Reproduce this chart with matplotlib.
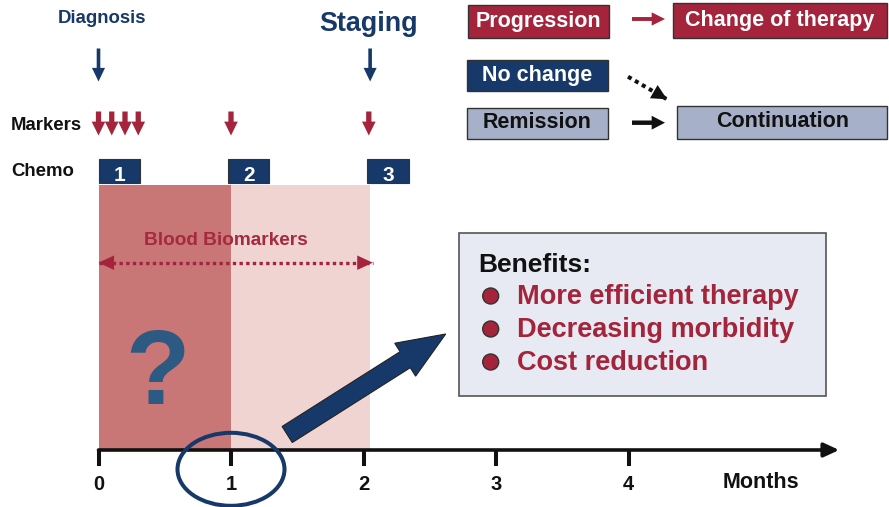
import numpy as np
import matplotlib
matplotlib.use("Agg")
import matplotlib.pyplot as plt
from matplotlib.patches import FancyArrow, Ellipse, Rectangle, Circle, ArrowStyle

plt.rcParams['font.family'] = ['Liberation Sans', 'DejaVu Sans']
plt.rcParams['font.weight'] = 'bold'

# ---- timeline data (months) ----
month_ticks = [0, 1, 2, 3, 4]
tick_labels = ['0', '1', '2', '3', '4']
phase_edges = [0, 1, 2.05]            # first month / second month shading
marker_months = [0, 0.1, 0.2, 0.3, 1, 2.04]
chemo_cycles = ['1', '2', '3']
chemo_start = [0, 0.98, 2.03]
chemo_length = 0.31
diagnosis_month = 0
staging_month = 2.05
biomarker_window = [0, 2.07]
axis_end = 5.59
focus_month = 1

benefits = ['More efficient therapy', 'Decreasing morbidity', 'Cost reduction']

NAVY = '#163969'
RED = '#a3243b'
STEEL = '#a6b0c8'
DARK_PINK = '#c87676'
LIGHT_PINK = '#f0d4d2'
INK = '#111111'

W, H = 889, 507
fig = plt.figure(figsize=(W / 100, H / 100), dpi=100)

# timeline axes: x in months, y in pixels
tl = fig.add_axes([0, 0, 1, 1])
tl.set_xlim(-98.5 / 132.5, (W - 98.5) / 132.5)
tl.set_ylim(H, 0)
tl.axis('off')

# layout axes: pixel coordinates
ax = fig.add_axes([0, 0, 1, 1])
ax.set_xlim(0, W)
ax.set_ylim(H, 0)
ax.axis('off')


def to_px(m):
    return ax.transData.inverted().transform(tl.transData.transform((m, 0)))[0]


def simple_arrow(axes, start, end, color, head_length, head_width, tail_width, z=3):
    axes.annotate('', xy=end, xytext=start,
                  arrowprops=dict(arrowstyle=ArrowStyle.Simple(head_length=head_length,
                                                               head_width=head_width,
                                                               tail_width=tail_width),
                                  mutation_scale=1, color=color, lw=0,
                                  shrinkA=0, shrinkB=0), zorder=z)


def dotted_arrow(axes, start, end, color, lw, head_length, head_width, both=False):
    (x0, y0), (x1, y1) = start, end
    axes.plot([x0, x1], [y0, y1], color=color, lw=lw, ls=(0, (1.0, 1.0)),
              dash_capstyle='butt', zorder=3)
    # heads only: a hairline tail under a filled head
    simple_arrow(axes, start, end, color, head_length, head_width, 0.01)
    if both:
        simple_arrow(axes, end, start, color, head_length, head_width, 0.01)


# shaded treatment phases
tl.bar(phase_edges[:-1], 449 - 185, width=np.diff(phase_edges), bottom=185,
       align='edge', color=[DARK_PINK, LIGHT_PINK], zorder=1)

# time axis with arrow
tl.annotate('', xy=(axis_end, 450), xytext=(phase_edges[0], 450),
            arrowprops=dict(arrowstyle='-|>,head_length=0.65,head_width=0.3',
                            mutation_scale=14, lw=2.6, color=INK,
                            shrinkA=0, shrinkB=0))
tl.vlines(month_ticks, 450, 466, colors=INK, lw=2.9, zorder=3)
for m, lab in zip(month_ticks, tick_labels):
    tl.text(m, 490, lab, ha='center', va='baseline', fontsize=14.5, color=INK)
ax.text(761, 487.7, 'Months', ha='center', va='baseline', fontsize=15.5, color=INK)

# diagnosis / staging
ax.text(102, 23.3, 'Diagnosis', ha='center', va='baseline', fontsize=13.4, color=NAVY)
ax.text(369, 31, 'Staging', ha='center', va='baseline', fontsize=19.4, color=NAVY)
for m in (diagnosis_month, staging_month):
    simple_arrow(tl, (m, 48.5), (m, 81.5), NAVY, 9.8, 9.4, 2.6)

# marker draws
ax.text(11, 130, 'Markers', ha='left', va='baseline', fontsize=13.4, color=INK)
for m in marker_months:
    simple_arrow(tl, (m, 111.5), (m, 135.5), RED, 10.0, 9.8, 3.8)

# chemotherapy cycles
ax.text(11, 176, 'Chemo', ha='left', va='baseline', fontsize=13.4, color=INK)
tl.bar(chemo_start, 24.6, width=chemo_length, bottom=158.7, align='edge',
       color=NAVY, edgecolor='#333333', lw=0.8, zorder=2)
for s, lab in zip(chemo_start, chemo_cycles):
    tl.text(s + chemo_length / 2, 181, lab, ha='center', va='baseline',
            fontsize=15, color='white', zorder=3)

# blood biomarker window
ax.text(226, 245, 'Blood Biomarkers', ha='center', va='baseline', fontsize=13.7, color='#a52a3d')
dotted_arrow(tl, (biomarker_window[0], 262.7), (biomarker_window[1], 262.7),
             RED, 2.4, 11.2, 10.4, both=True)

ax.text(157, 404, '?', ha='center', va='baseline', fontsize=76, color='#2c5a82')

# decision boxes
boxes = [
    ((468.3, 4.7), 140.4, 33.3, RED, 'Progression', 'white', (538.3, 26.7)),
    ((672.7, 3.3), 214.6, 34.7, RED, 'Change of therapy', 'white', (780, 26.2)),
    ((467.3, 60.0), 140.4, 31.3, NAVY, 'No change', 'white', (537.5, 81)),
    ((467.3, 107.7), 140.7, 31.0, STEEL, 'Remission', INK, (537.5, 128.3)),
    ((677.3, 106.0), 210.0, 33.3, STEEL, 'Continuation', INK, (782.3, 127.3)),
]
for xy, w, h, fc, label, tc, (tx, ty) in boxes:
    ax.add_patch(Rectangle(xy, w, h, facecolor=fc, edgecolor='#333333', lw=1.0))
    ax.text(tx, ty, label, ha='center', va='baseline', fontsize=15.5, color=tc)

simple_arrow(ax, (632, 19), (665, 19), RED, 9.6, 9.6, 2.8)
simple_arrow(ax, (632, 122.7), (665, 122.7), INK, 9.6, 10.0, 3.2)
dotted_arrow(ax, (628, 76.7), (667, 99.3), INK, 2.9, 11.0, 11.0)

# benefits panel
ax.add_patch(Rectangle((459.3, 232.7), 366.4, 163.3, facecolor='#e7eaf2',
                       edgecolor='#555555', lw=1.2))
ax.text(478.3, 271.7, 'Benefits:', ha='left', va='baseline', fontsize=19, color=INK)
for i, item in enumerate(benefits):
    yb = 304 + i * 33
    ax.add_patch(Circle((490.7, yb - 8), 8, facecolor=RED, edgecolor='#333333', lw=1.0))
    ax.text(516.7, yb, item, ha='left', va='baseline', fontsize=19.5, color=RED)

# arrow pointing to the benefits
ax.add_patch(FancyArrow(287.2, 434.5, 158.5, -100.5, width=19, head_width=39,
                        head_length=48, length_includes_head=True,
                        facecolor=NAVY, edgecolor='#222222', lw=0.8, zorder=4))

# highlight around the first month
ax.add_patch(Ellipse((to_px(focus_month), 469.3), 107, 73, fill=False,
                     edgecolor=NAVY, lw=2.9, zorder=5))

fig.savefig('out.png', dpi=100)
